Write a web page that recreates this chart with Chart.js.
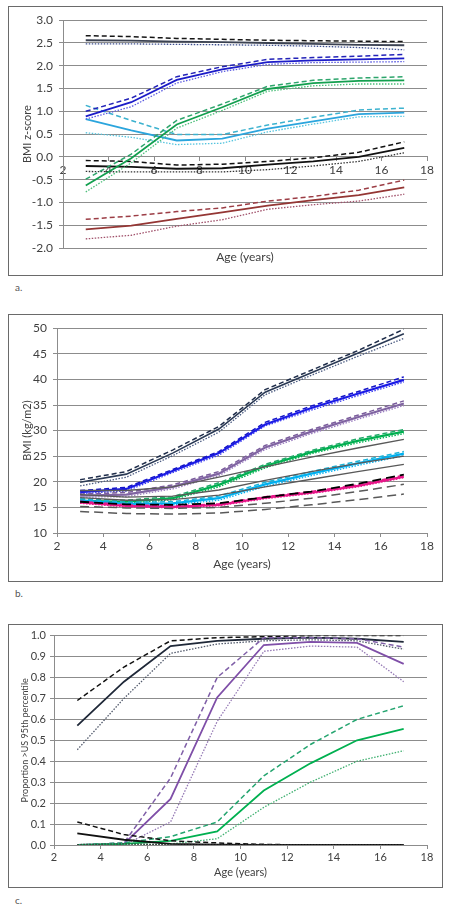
<!DOCTYPE html>
<html>
<head>
<meta charset="utf-8">
<script src="https://cdn.jsdelivr.net/npm/chart.js@4.4.1/dist/chart.umd.min.js"></script>
<style>
  body { margin: 0; background: #fff; width: 456px; height: 913px; position: relative; font-family: Lato, "Open Sans", sans-serif; }
  .box { position: absolute; left: 8px; width: 433px; border: 1px solid #6a6a6a; }
  .box canvas { display: block; }
  .lbl { position: absolute; left: 15px; font-size: 10px; color: #555; }
  .xt { position: absolute; left: 195px; width: 100px; text-align: center; font-size: 12px; color: #404040; }
</style>
</head>
<body>
<div class="box" style="top:6px;height:268px"><canvas id="chartA" width="433" height="268"></canvas></div>
<div class="xt" style="top:249px">Age (years)</div>
<div class="lbl" style="top:281px">a.</div>

<div class="box" style="top:314px;height:266px"><canvas id="chartB" width="433" height="266"></canvas></div>
<div class="lbl" style="top:587px">b.</div>

<div class="box" style="top:624px;height:262px"><canvas id="chartC" width="433" height="262"></canvas></div>
<div class="lbl" style="top:894px">c.</div>

<script>
// ages (years) at which every series is given
const AGES = [3, 5, 7, 9, 11, 13, 15, 17];

// ---- panel a: BMI z-score (estimate, upper, lower) ----
const A_NAVY    = [2.56, 2.55, 2.53, 2.52, 2.50, 2.48, 2.46, 2.45];
const A_NAVY_HI = [2.66, 2.64, 2.60, 2.58, 2.56, 2.55, 2.54, 2.53];
const A_NAVY_LO = [2.48, 2.48, 2.47, 2.46, 2.45, 2.43, 2.40, 2.35];
const A_BLUE    = [0.89, 1.20, 1.69, 1.92, 2.08, 2.12, 2.14, 2.16];
const A_BLUE_HI = [1.00, 1.29, 1.76, 1.98, 2.14, 2.18, 2.21, 2.25];
const A_BLUE_LO = [0.83, 1.10, 1.62, 1.87, 2.03, 2.07, 2.08, 2.09];
const A_GREEN    = [-0.63, -0.03, 0.71, 1.09, 1.49, 1.62, 1.67, 1.68];
const A_GREEN_HI = [-0.49, 0.06, 0.80, 1.16, 1.55, 1.68, 1.73, 1.76];
const A_GREEN_LO = [-0.77, -0.13, 0.63, 1.02, 1.44, 1.56, 1.60, 1.60];
const A_LBLUE    = [0.83, 0.58, 0.36, 0.40, 0.62, 0.78, 0.94, 0.97];
const A_LBLUE_HI = [1.13, 0.80, 0.49, 0.49, 0.70, 0.87, 1.03, 1.07];
const A_LBLUE_LO = [0.53, 0.43, 0.27, 0.30, 0.55, 0.72, 0.88, 0.89];
const A_BLACK    = [-0.20, -0.22, -0.26, -0.25, -0.17, -0.10, 0.00, 0.20];
const A_BLACK_HI = [-0.08, -0.10, -0.18, -0.16, -0.10, -0.02, 0.10, 0.33];
const A_BLACK_LO = [-0.32, -0.33, -0.33, -0.33, -0.28, -0.20, -0.10, 0.09];
const A_RED    = [-1.59, -1.51, -1.36, -1.22, -1.07, -0.95, -0.84, -0.67];
const A_RED_HI = [-1.37, -1.30, -1.20, -1.12, -0.97, -0.87, -0.73, -0.51];
const A_RED_LO = [-1.80, -1.72, -1.52, -1.38, -1.15, -1.05, -0.97, -0.82];

// ---- panel b: BMI (kg/m2) ----
const B_NAVY    = [19.9, 21.5, 25.6, 30.3, 37.5, 41.3, 45.1, 48.9];
const B_NAVY_HI = [20.4, 22.0, 26.2, 30.8, 38.0, 41.8, 45.6, 49.8];
const B_NAVY_LO = [19.2, 20.9, 25.1, 29.7, 37.0, 40.8, 44.5, 48.0];
const B_BLUE    = [18.0, 18.6, 22.1, 25.6, 31.2, 34.4, 37.2, 39.9];
const B_BLUE_HI = [18.3, 18.9, 22.4, 25.9, 31.6, 34.8, 37.6, 40.5];
const B_BLUE_LO = [17.7, 18.2, 21.8, 25.2, 30.9, 34.0, 36.8, 39.5];
const B_PURPLE    = [17.3, 17.5, 19.0, 21.6, 26.7, 29.8, 32.6, 35.3];
const B_PURPLE_HI = [17.6, 17.9, 19.4, 22.0, 27.1, 30.2, 33.0, 35.8];
const B_PURPLE_LO = [17.0, 17.1, 18.6, 21.2, 26.3, 29.4, 32.2, 34.9];
const B_GREEN    = [16.3, 16.1, 16.8, 19.4, 23.1, 25.8, 28.0, 29.8];
const B_GREEN_HI = [16.6, 16.4, 17.1, 19.8, 23.4, 26.1, 28.4, 30.2];
const B_GREEN_LO = [16.0, 15.8, 16.5, 19.0, 22.7, 25.5, 27.6, 29.4];
const B_CYAN    = [16.4, 15.7, 15.8, 16.8, 19.5, 21.6, 23.6, 25.5];
const B_CYAN_HI = [16.7, 16.0, 16.1, 17.2, 19.9, 22.0, 24.0, 25.9];
const B_CYAN_LO = [16.1, 15.4, 15.5, 16.4, 19.1, 21.2, 23.2, 25.1];
const B_MAGENTA    = [16.0, 15.3, 15.1, 15.5, 16.9, 17.9, 19.2, 21.0];
const B_MAGENTA_HI = [16.2, 15.5, 15.3, 15.7, 17.1, 18.1, 19.4, 21.3];
const B_MAGENTA_LO = [15.8, 15.1, 14.9, 15.3, 16.7, 17.7, 19.0, 20.8];
const B_REF_BLACK = [16.1, 15.6, 15.5, 15.8, 17.0, 18.1, 19.6, 21.4];
const B_REF_G1 = [18.3, 18.3, 19.0, 20.9, 22.9, 24.8, 26.6, 28.3];
const B_REF_G2 = [17.5, 17.0, 17.2, 18.4, 20.3, 22.0, 23.6, 25.0];
const B_REF_G3 = [16.9, 16.4, 16.5, 17.4, 19.0, 20.5, 22.0, 23.4];
const B_REF_D1 = [15.2, 14.9, 14.8, 15.0, 15.8, 16.8, 18.1, 19.5];
const B_REF_D2 = [14.2, 13.8, 13.7, 13.9, 14.6, 15.5, 16.5, 17.6];

// ---- panel c: proportion > US 95th percentile ----
const C_NAVY    = [0.57, 0.78, 0.95, 0.975, 0.985, 0.99, 0.985, 0.97];
const C_NAVY_HI = [0.69, 0.85, 0.975, 0.99, 0.995, 1.0, 1.0, 1.0];
const C_NAVY_LO = [0.455, 0.70, 0.915, 0.96, 0.975, 0.98, 0.975, 0.935];
const C_PURPLE    = [0, 0.005, 0.22, 0.705, 0.955, 0.97, 0.965, 0.865];
const C_PURPLE_HI = [0, 0.01, 0.32, 0.80, 0.99, 0.99, 0.985, 0.945];
const C_PURPLE_LO = [0, 0, 0.11, 0.59, 0.925, 0.95, 0.945, 0.78];
const C_GREEN    = [0, 0.005, 0.02, 0.065, 0.26, 0.39, 0.50, 0.555];
const C_GREEN_HI = [0, 0.01, 0.04, 0.11, 0.33, 0.48, 0.60, 0.665];
const C_GREEN_LO = [0, 0, 0.005, 0.03, 0.18, 0.30, 0.40, 0.45];
const C_BLACK    = [0.055, 0.025, 0.005, 0.002, 0, 0, 0, 0];
const C_BLACK_HI = [0.11, 0.05, 0.02, 0.01, 0.003, 0, 0, 0];
const C_BLACK_LO = [0.002, 0.005, 0.002, 0, 0, 0, 0, 0];

const SOLID = [], DASH = [5, 3], DOT = [1.5, 1.5], LONG = [9, 5];
const GRID = '#8c8c8c', TXT = '#404040';

function line(values, color, dash, width) {
    return {
        data: AGES.map((a, i) => ({ x: a, y: values[i] })),
        borderColor: color,
        borderDash: dash,
        borderWidth: width,
        pointRadius: 0,
        fill: false,
        tension: 0
    };
}

// estimate + upper (dashed) + lower (dotted)
function trio(est, hi, lo, c1, c2, c3, w) {
    return [line(lo, c3, DOT, 1.3), line(hi, c2, DASH, 1.5), line(est, c1, SOLID, w || 1.8)];
}

function makeOptions(cfg) {
    return {
        responsive: false,
        animation: false,
        layout: { padding: cfg.padding },
        plugins: { legend: { display: false }, tooltip: { enabled: false } },
        scales: {
            x: {
                type: 'linear',
                min: 2, max: 18,
                position: cfg.xPos || 'bottom',
                afterFit: cfg.xHeight ? (s) => { s.height = cfg.xHeight; } : undefined,
                ticks: { stepSize: 2, color: TXT, font: { family: 'Lato', size: cfg.xFont || 12 }, padding: 2, maxRotation: 0 },
                grid: { drawOnChartArea: false, drawTicks: true, tickLength: 4, color: GRID },
                border: { color: GRID },
                title: cfg.xTitle ? { display: true, text: 'Age (years)', color: TXT, font: { family: 'Lato', size: cfg.xTitleSize }, padding: { top: 0, bottom: cfg.xTitlePad } } : { display: false }
            },
            y: {
                min: cfg.yMin, max: cfg.yMax,
                afterFit: (s) => { s.width = cfg.yWidth; },
                ticks: { stepSize: cfg.yStep, color: TXT, font: { family: 'Lato', size: cfg.yFont }, padding: cfg.yPad,
                         callback: (v) => cfg.yDec ? v.toFixed(cfg.yDec) : v },
                grid: { color: GRID, tickLength: 4 },
                border: { color: GRID },
                title: { display: true, text: cfg.yTitle, color: TXT, font: { family: 'Lato', size: cfg.yTitleSize }, padding: { top: cfg.yTitlePad, bottom: 0 } }
            }
        }
    };
}

// Panel a
new Chart(document.getElementById('chartA').getContext('2d'), {
    type: 'line',
    data: {
        datasets: [
            ...trio(A_NAVY, A_NAVY_HI, A_NAVY_LO, '#3b4252', '#151515', '#3d4f8f'),
            ...trio(A_BLUE, A_BLUE_HI, A_BLUE_LO, '#1c1cc8', '#2323b8', '#5a5ae0'),
            ...trio(A_GREEN, A_GREEN_HI, A_GREEN_LO, '#13a04f', '#2da56c', '#4cbf7a'),
            ...trio(A_LBLUE, A_LBLUE_HI, A_LBLUE_LO, '#2ba5dd', '#3cb2cf', '#55c4de'),
            ...trio(A_BLACK, A_BLACK_HI, A_BLACK_LO, '#111111', '#111111', '#333333'),
            ...trio(A_RED, A_RED_HI, A_RED_LO, '#943634', '#9c3d45', '#a0506a')
        ]
    },
    options: makeOptions({
        padding: { left: 0, right: 15, top: 12, bottom: 27 },
        xPos: { y: 0 }, xFont: 12,
        yMin: -2, yMax: 3, yStep: 0.5, yDec: 1, yFont: 12, yPad: 6, yWidth: 54,
        yTitle: 'BMI z-score', yTitleSize: 11, yTitlePad: 12
    })
});

// Panel b
new Chart(document.getElementById('chartB').getContext('2d'), {
    type: 'line',
    data: {
        datasets: [
            line(B_REF_D2, '#595959', LONG, 1.5),
            line(B_REF_D1, '#595959', LONG, 1.5),
            line(B_REF_G3, '#595959', SOLID, 1.3),
            line(B_REF_G2, '#595959', SOLID, 1.3),
            line(B_REF_G1, '#595959', SOLID, 1.3),
            line(B_REF_BLACK, '#000000', LONG, 1.8),
            ...trio(B_MAGENTA, B_MAGENTA_HI, B_MAGENTA_LO, '#e8178a', '#e8178a', '#e8178a', 2.2),
            ...trio(B_CYAN, B_CYAN_HI, B_CYAN_LO, '#00b0f0', '#1ab3d8', '#00b0f0', 2.2),
            ...trio(B_GREEN, B_GREEN_HI, B_GREEN_LO, '#00b050', '#20a868', '#00b050', 2.2),
            ...trio(B_PURPLE, B_PURPLE_HI, B_PURPLE_LO, '#8064a2', '#7a5c9c', '#9a7cc0', 2.2),
            ...trio(B_BLUE, B_BLUE_HI, B_BLUE_LO, '#1a1ae6', '#1414c8', '#3c3cf0', 2.2),
            ...trio(B_NAVY, B_NAVY_HI, B_NAVY_LO, '#2b3a55', '#1f2d4a', '#4a5a80', 1.6)
        ]
    },
    options: makeOptions({
        padding: { left: 0, right: 15, top: 10, bottom: 0 },
        xHeight: 48, xFont: 12, xTitle: true, xTitleSize: 12, xTitlePad: 10,
        yMin: 10, yMax: 50, yStep: 5, yFont: 12, yPad: 6, yWidth: 48,
        yTitle: 'BMI (kg/m2)', yTitleSize: 11, yTitlePad: 12
    })
});

// Panel c
new Chart(document.getElementById('chartC').getContext('2d'), {
    type: 'line',
    data: {
        datasets: [
            ...trio(C_BLACK, C_BLACK_HI, C_BLACK_LO, '#111111', '#111111', '#333333'),
            ...trio(C_GREEN, C_GREEN_HI, C_GREEN_LO, '#00b050', '#25a570', '#3fb070'),
            ...trio(C_PURPLE, C_PURPLE_HI, C_PURPLE_LO, '#7f4fa8', '#8060a8', '#9478b4'),
            ...trio(C_NAVY, C_NAVY_HI, C_NAVY_LO, '#1f2838', '#111111', '#50586a')
        ]
    },
    options: makeOptions({
        padding: { left: 0, right: 15, top: 6, bottom: 0 },
        xHeight: 42, xFont: 11, xTitle: true, xTitleSize: 11, xTitlePad: 8,
        yMin: 0, yMax: 1, yStep: 0.1, yDec: 1, yFont: 11, yPad: 4, yWidth: 45,
        yTitle: 'Proportion >US 95th percentile', yTitleSize: 9, yTitlePad: 11
    })
});
</script>
</body>
</html>
